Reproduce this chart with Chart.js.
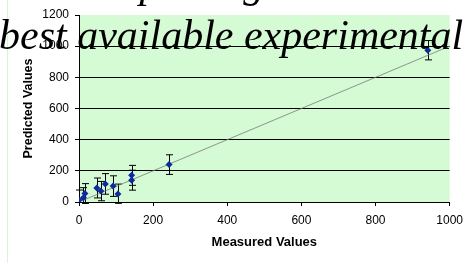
<!DOCTYPE html>
<html>
<head>
<meta charset="utf-8">
<script src="https://cdn.jsdelivr.net/npm/chart.js@4.4.0/dist/chart.umd.min.js"></script>
<style>
  body { margin: 0; background: #fff; }
  #wrap { position: relative; width: 470px; height: 263px; overflow: hidden; }
  #edge { position: absolute; left: 7px; top: 0; width: 1px; height: 263px; background: #d6f7d6; }
  .overlay { position: absolute; white-space: nowrap; font: italic 42px "Liberation Serif", "Times New Roman", serif; line-height: 46px; color: #000; z-index: 2; }
</style>
</head>
<body>
<div id="wrap">
  <div id="edge"></div>
  <canvas id="chart" width="470" height="263"></canvas>
  <div class="overlay" style="left:-60px; top:-40px;">have developed algorithms that target</div>
  <div class="overlay" style="left:-1px; top:12px;">best available experimental</div>
</div>
<script>
  // Measured vs predicted values
  const measured = [0, 12, 16, 48, 59, 71, 92, 105, 142, 142, 243, 941];
  const predicted = [13, 28, 54, 90, 70, 116, 102, 52, 171, 140, 240, 974];
  const errors = [64, 64, 64, 64, 62, 66, 66, 63, 64, 64, 63, 62];

  // Trend line end points
  const lineX = [0, 1000];
  const lineY = [0, 1000];

  const xTicks = [0, 200, 400, 600, 800, 1000];
  const yTicks = [0, 200, 400, 600, 800, 1000, 1200];

  const points = measured.map((m, i) => ({ x: m, y: predicted[i] }));
  const trend = lineX.map((x, i) => ({ x: x, y: lineY[i] }));

  // Green plot area
  const plotBackground = {
    id: 'plotBackground',
    beforeDraw(chart) {
      const { ctx, chartArea } = chart;
      ctx.save();
      ctx.fillStyle = '#d4fbd4';
      ctx.fillRect(chartArea.left, chartArea.top, chartArea.right - chartArea.left, chartArea.bottom - chartArea.top);
      ctx.restore();
    }
  };

  // Vertical error bars with caps
  const errorBars = {
    id: 'errorBars',
    beforeDatasetsDraw(chart) {
      const { ctx, chartArea, scales } = chart;
      ctx.save();
      ctx.beginPath();
      ctx.rect(chartArea.left - 10, chartArea.top, chartArea.right - chartArea.left + 20, chartArea.bottom - chartArea.top + 2);
      ctx.clip();
      ctx.strokeStyle = '#000';
      ctx.lineWidth = 1;
      measured.forEach((m, i) => {
        const x = Math.round(scales.x.getPixelForValue(m)) + 0.5;
        const top = scales.y.getPixelForValue(predicted[i] + errors[i]);
        const bottom = scales.y.getPixelForValue(predicted[i] - errors[i]);
        ctx.beginPath();
        ctx.moveTo(x, top);
        ctx.lineTo(x, bottom);
        ctx.moveTo(x - 3.5, top);
        ctx.lineTo(x + 3.5, top);
        ctx.moveTo(x - 3.5, bottom);
        ctx.lineTo(x + 3.5, bottom);
        ctx.stroke();
      });
      ctx.restore();
    }
  };

  new Chart(document.getElementById('chart'), {
    type: 'scatter',
    data: {
      datasets: [
        {
          label: 'Values',
          data: points,
          pointStyle: 'rectRot',
          pointRadius: 3.5,
          pointBackgroundColor: '#0d2a9e',
          pointBorderColor: '#0d2a9e',
          pointBorderWidth: 0,
          showLine: false
        },
        {
          label: 'Trend',
          data: trend,
          showLine: true,
          pointRadius: 0,
          borderColor: '#7a7a7a',
          borderWidth: 0.8,
          fill: false
        }
      ]
    },
    options: {
      responsive: false,
      animation: false,
      events: [],
      layout: { padding: { left: 0, right: 20, top: 15, bottom: 0 } },
      plugins: {
        legend: { display: false },
        tooltip: { enabled: false }
      },
      scales: {
        x: {
          type: 'linear',
          min: 0,
          max: 1000,
          afterBuildTicks: (scale) => { scale.ticks = xTicks.map(v => ({ value: v })); },
          afterFit: (scale) => { scale.height = 61; },
          ticks: { color: '#000', padding: 7, callback: (v) => String(v), font: { family: 'Liberation Sans', size: 12 } },
          grid: { drawOnChartArea: false, drawTicks: true, tickLength: 4, tickColor: '#000' },
          border: { color: '#000', width: 1 },
          title: {
            display: true,
            text: 'Measured Values',
            color: '#000',
            font: { family: 'Liberation Sans', size: 13, weight: 'bold' },
            padding: { top: 0, bottom: 13 }
          }
        },
        y: {
          type: 'linear',
          min: 0,
          max: 1200,
          afterBuildTicks: (scale) => { scale.ticks = yTicks.map(v => ({ value: v })); },
          afterFit: (scale) => { scale.width = 79; },
          ticks: { color: '#000', padding: 6, callback: (v) => String(v), font: { family: 'Liberation Sans', size: 12 } },
          grid: {
            color: (ctx) => (ctx.tick && ctx.tick.value === 1200 ? 'rgba(0,0,0,0)' : '#000'),
            lineWidth: 1,
            drawTicks: true,
            tickLength: 4,
            tickColor: '#000'
          },
          border: { color: '#000', width: 1 },
          title: {
            display: true,
            text: 'Predicted Values',
            color: '#000',
            font: { family: 'Liberation Sans', size: 12.5, weight: 'bold' },
            padding: { top: 21, bottom: 0 }
          }
        }
      }
    },
    plugins: [plotBackground, errorBars]
  });
</script>
</body>
</html>
